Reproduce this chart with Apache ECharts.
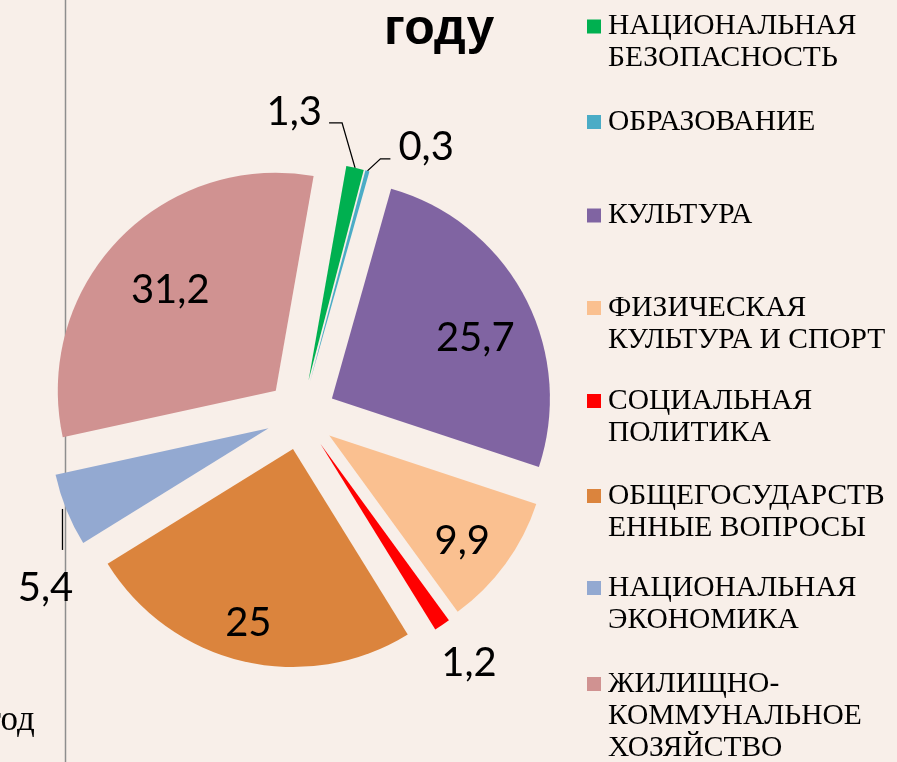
<!DOCTYPE html>
<html>
<head>
<meta charset="utf-8">
<script src="https://cdn.jsdelivr.net/npm/echarts@6/dist/echarts.min.js"></script>
<style>
  html, body { margin: 0; padding: 0; background: #F8EFE9; }
  #chart { width: 897px; height: 762px; }
</style>
</head>
<body>
<div id="chart"></div>
<script>
const categories = [
  'НАЦИОНАЛЬНАЯ БЕЗОПАСНОСТЬ',
  'ОБРАЗОВАНИЕ',
  'КУЛЬТУРА',
  'ФИЗИЧЕСКАЯ КУЛЬТУРА И СПОРТ',
  'СОЦИАЛЬНАЯ ПОЛИТИКА',
  'ОБЩЕГОСУДАРСТВЕННЫЕ ВОПРОСЫ',
  'НАЦИОНАЛЬНАЯ ЭКОНОМИКА',
  'ЖИЛИЩНО-КОММУНАЛЬНОЕ ХОЗЯЙСТВО'
];
// legend wraps the names the way the original does
const legendLines = [
  ['НАЦИОНАЛЬНАЯ', 'БЕЗОПАСНОСТЬ'],
  ['ОБРАЗОВАНИЕ'],
  ['КУЛЬТУРА'],
  ['ФИЗИЧЕСКАЯ', 'КУЛЬТУРА И СПОРТ'],
  ['СОЦИАЛЬНАЯ', 'ПОЛИТИКА'],
  ['ОБЩЕГОСУДАРСТВ', 'ЕННЫЕ ВОПРОСЫ'],
  ['НАЦИОНАЛЬНАЯ', 'ЭКОНОМИКА'],
  ['ЖИЛИЩНО-', 'КОММУНАЛЬНОЕ', 'ХОЗЯЙСТВО']
];
const shares = [1.3, 0.3, 25.7, 9.9, 1.2, 25, 5.4, 31.2];
const colors = ['#00B050', '#4BACC6', '#8064A2', '#FAC090', '#FF0000', '#DB843D', '#93A9D1', '#D09291'];

const CX = 301, CY = 415;
const R = 218;
const START = 80;
const EXPLODE = 35;
const LINE_H = 32;
const legendIconY = [26.5, 122, 215.5, 308, 401, 496, 588, 684];
// how far out (fraction of radius) the inside labels sit, plus a small nudge
const insideRatio = { 2: 0.71, 3: 0.77, 5: 0.82, 7: 0.67 };
const insideNudge = { 2: [4, 14], 3: [-5, 5], 5: [-3, -3], 7: [2, 3] };

const fmt = v => String(v).replace('.', ',');

// mid angle of every slice, clockwise from 12 o'clock
const total = shares.reduce((a, b) => a + b, 0);
let cum = 0;
const midDir = shares.map(v => {
  const deg = (90 - START) + 360 * (cum + v / 2) / total;
  cum += v;
  const rad = deg * Math.PI / 180;
  return [Math.sin(rad), -Math.cos(rad)];
});

// leader lines / label placement for the small slices
function placeLabel(p) {
  const i = p.dataIndex;
  if (insideRatio[i]) {
    const k = (insideRatio[i] - 0.5) * R;
    return { dx: k * midDir[i][0] + insideNudge[i][0], dy: k * midDir[i][1] + insideNudge[i][1] };
  }
  const pts = p.labelLinePoints;
  if (!pts) return {};
  const a = pts[0];
  if (i === 0) {
    const b = [a[0] - 13, a[1] - 45], c = [b[0] - 13, b[1]];
    return { x: c[0] - 7, y: c[1] - 11, align: 'right', verticalAlign: 'middle', labelLinePoints: [a, b, c] };
  }
  if (i === 1) {
    const b = [a[0] + 13, a[1] - 12], c = [b[0] + 10, b[1]];
    return { x: c[0] + 8, y: c[1] - 12, align: 'left', verticalAlign: 'middle', labelLinePoints: [a, b, c] };
  }
  if (i === 4) {
    return { x: a[0] - 1, y: a[1] + 38, align: 'left', verticalAlign: 'middle' };
  }
  if (i === 6) {
    const b = [a[0] - 4, a[1] - 1], c = [b[0], a[1] + 40];
    return { x: c[0] - 17, y: c[1] + 38, align: 'center', verticalAlign: 'middle', labelLinePoints: [b, c] };
  }
  return {};
}

// one pie per slice so every slice can be pulled out along its own mid angle
const series = shares.map((_, i) => ({
  type: 'pie',
  center: [CX + EXPLODE * midDir[i][0], CY + EXPLODE * midDir[i][1]],
  radius: R,
  startAngle: START,
  clockwise: true,
  avoidLabelOverlap: false,
  emphasis: { disabled: true },
  itemStyle: { borderWidth: 0 },
  label: {
    position: insideRatio[i] ? 'inside' : 'outside',
    fontFamily: 'Lato',
    fontSize: 40,
    color: '#000',
    formatter: p => fmt(p.value)
  },
  labelLine: {
    show: !insideRatio[i] && i !== 4,
    length: 12,
    length2: 10,
    lineStyle: { color: '#000', width: 1.3 }
  },
  labelLayout: placeLabel,
  data: shares.map((v, j) => j === i
    ? { name: categories[j], value: v, itemStyle: { color: colors[j] } }
    : { name: categories[j], value: v, itemStyle: { color: 'rgba(0,0,0,0)' }, label: { show: false }, labelLine: { show: false } })
}));

// legend text is centred on its marker, so blank lines on top push the
// first line level with the marker like in the original
const legends = legendLines.map((lines, i) => {
  const n = lines.length;
  return {
    data: [{ name: categories[i], itemStyle: { color: colors[i] } }],
    orient: 'vertical',
    left: 587,
    top: legendIconY[i] - (2 * n - 1) * LINE_H / 2,
    padding: 0,
    itemWidth: 14,
    itemHeight: 14,
    icon: 'rect',
    selectedMode: false,
    formatter: () => '\n'.repeat(n - 1) + lines.join('\n'),
    textStyle: {
      fontFamily: 'Liberation Serif',
      fontSize: 29.5,
      lineHeight: LINE_H,
      color: '#000',
      padding: [0, 0, 0, 2]
    }
  };
});

const chart = echarts.init(document.getElementById('chart'));
chart.setOption({
  backgroundColor: '#F8EFE9',
  animation: false,
  title: {
    text: 'году',
    left: 384,
    top: 5,
    padding: 0,
    textStyle: { fontFamily: 'Liberation Sans', fontWeight: 'bold', fontSize: 50, color: '#000' }
  },
  legend: legends,
  graphic: [
    { type: 'line', shape: { x1: 65.5, y1: 0, x2: 65.5, y2: 762 }, style: { stroke: '#8E8E8E', lineWidth: 1.5 }, silent: true },
    { type: 'text', left: -13, top: 703, style: { text: 'год', fontFamily: 'Liberation Serif', fontSize: 35, fill: '#000' }, silent: true }
  ],
  series: series
});
</script>
</body>
</html>
